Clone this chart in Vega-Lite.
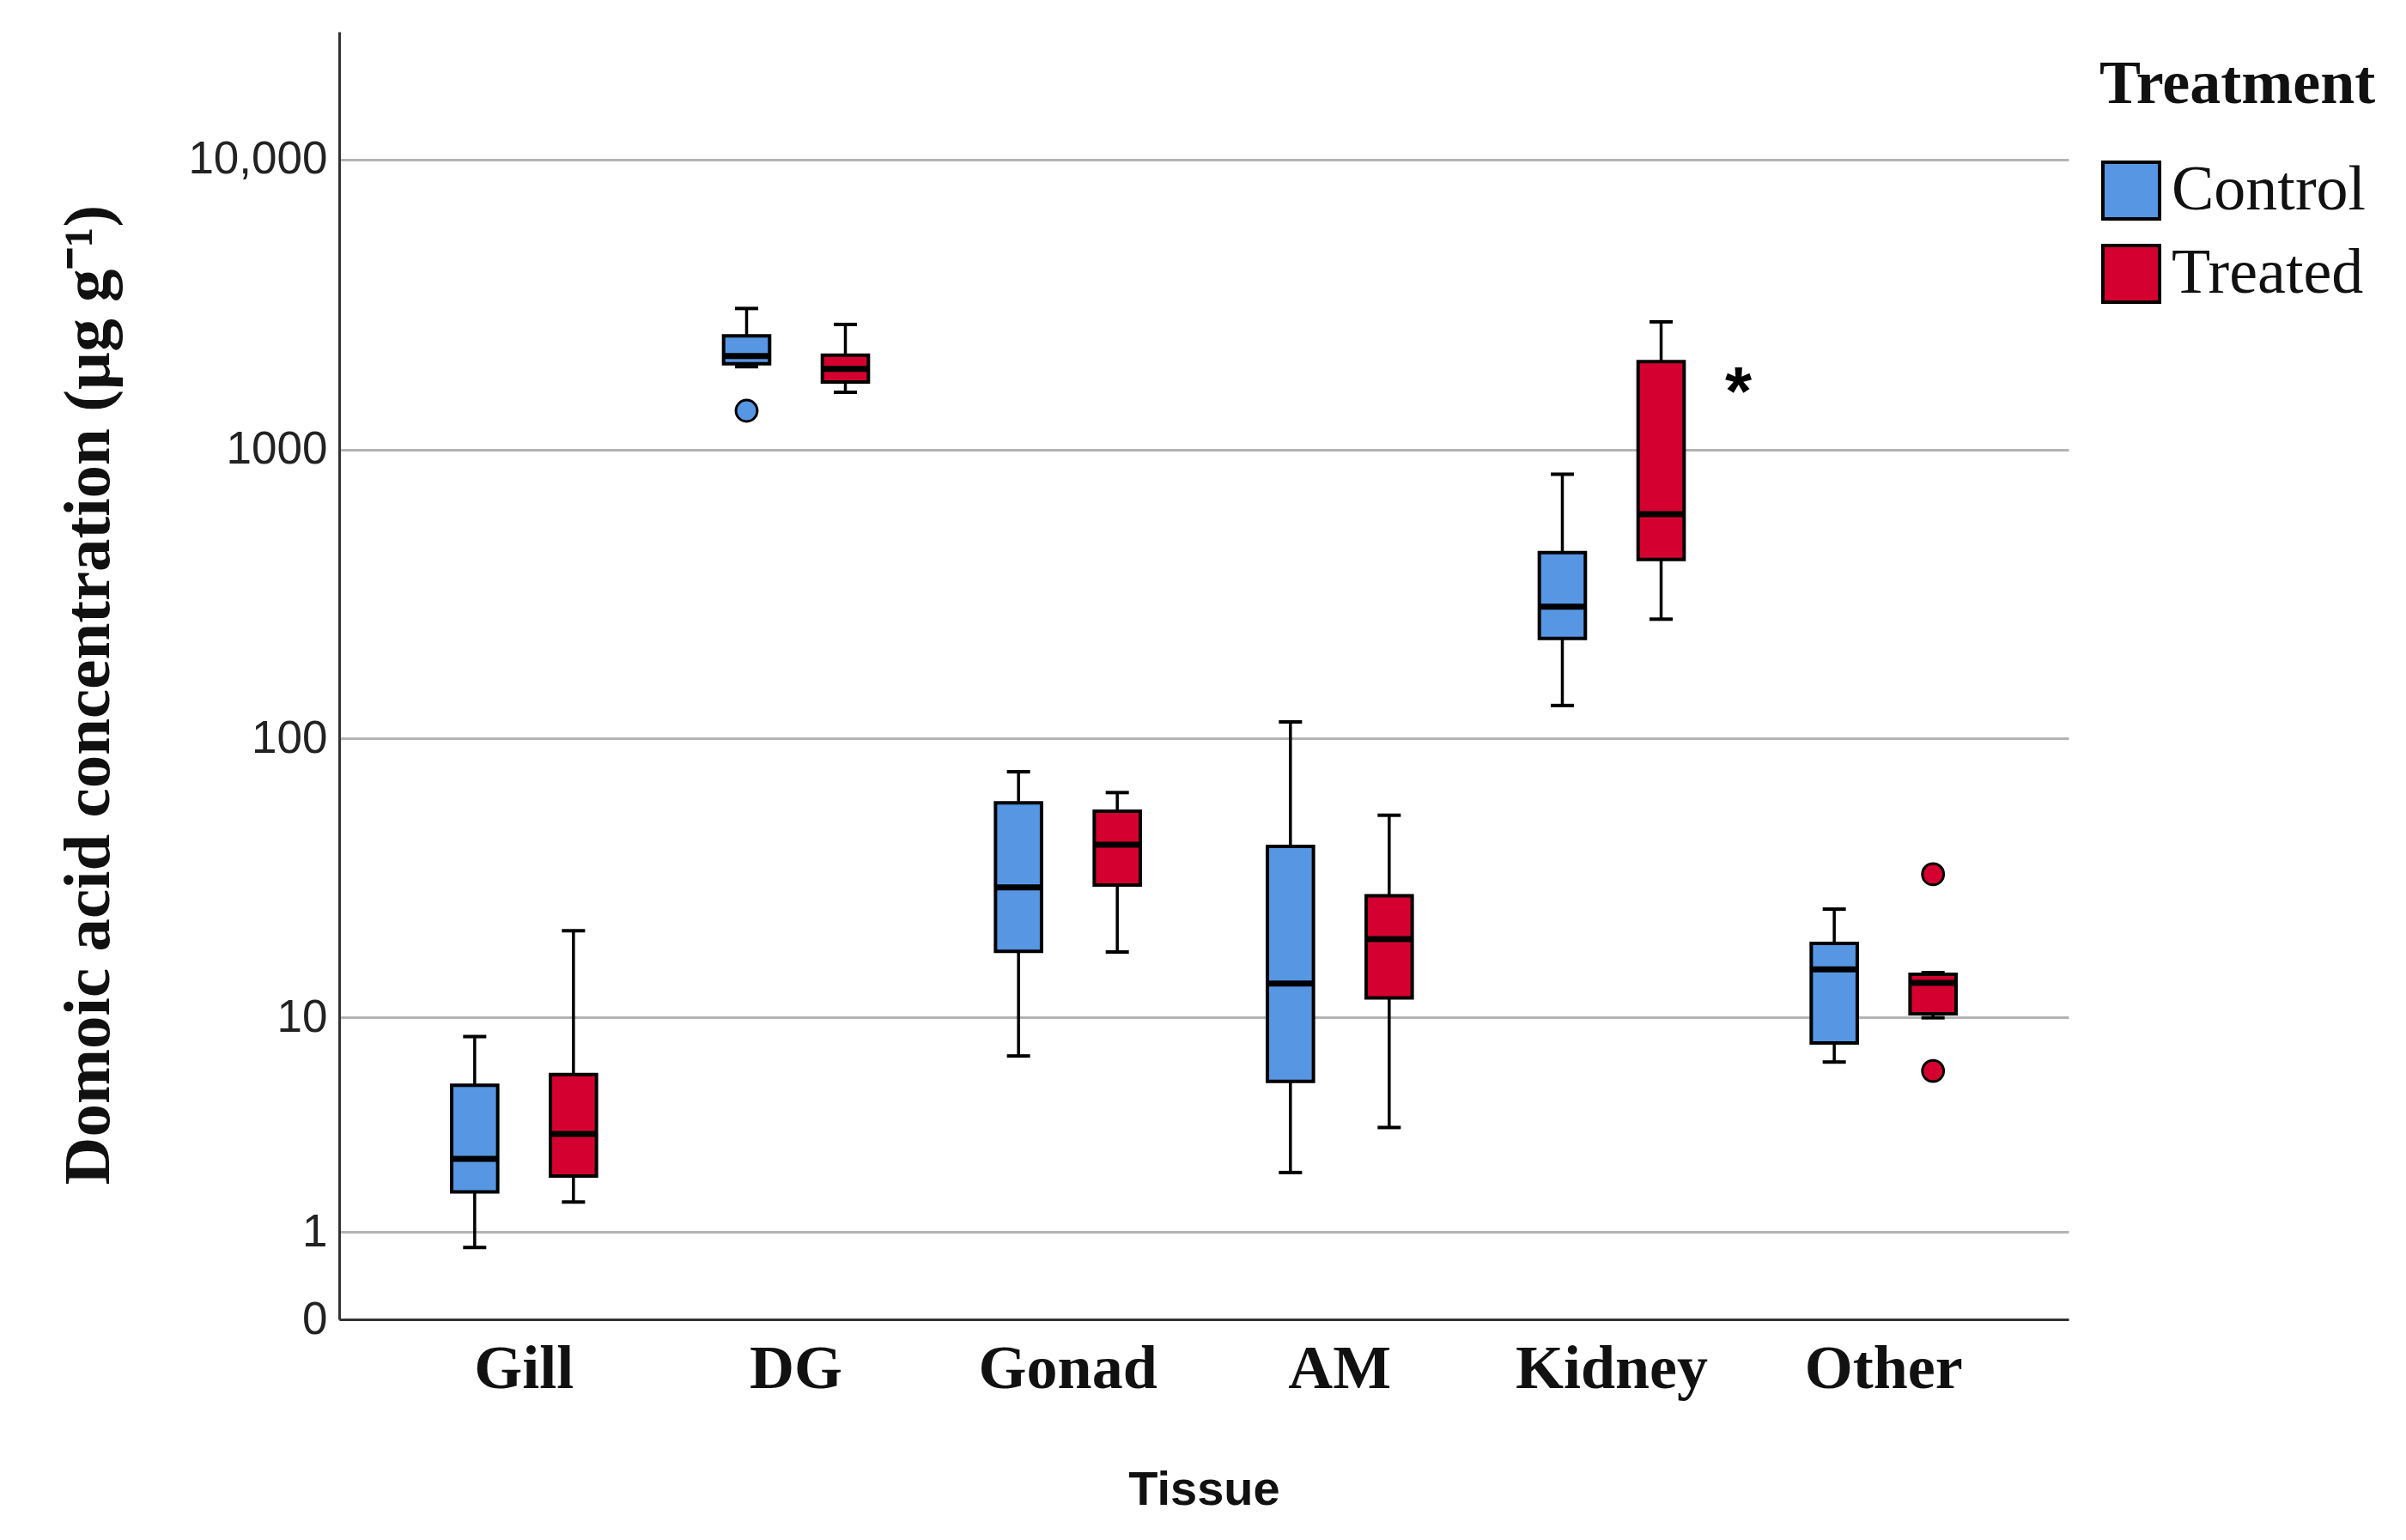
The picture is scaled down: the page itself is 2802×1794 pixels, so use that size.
{
  "$schema": "https://vega.github.io/schema/vega-lite/v6.json",
  "width": 2014,
  "height": 1500,
  "autosize": {"type": "none"},
  "padding": {"left": 395, "top": 37, "right": 393, "bottom": 257},
  "background": "white",
  "config": {
    "view": {"stroke": null},
    "axis": {"domainColor": "#333333", "domainWidth": 3, "ticks": false}
  },
  "datasets": {
    "boxes": [
      {"tissue": "Gill", "treatment": "Control", "min": 0.77, "q1": 1.75, "median": 2.58, "q3": 5.42, "max": 8.45},
      {"tissue": "Gill", "treatment": "Treated", "min": 1.54, "q1": 2.12, "median": 3.36, "q3": 5.99, "max": 20.9},
      {"tissue": "DG", "treatment": "Control", "min": 1930, "q1": 1975, "median": 2100, "q3": 2465, "max": 3065},
      {"tissue": "DG", "treatment": "Treated", "min": 1575, "q1": 1710, "median": 1895, "q3": 2115, "max": 2700},
      {"tissue": "Gonad", "treatment": "Control", "min": 7.1, "q1": 17.6, "median": 29.9, "q3": 59.5, "max": 76.4},
      {"tissue": "Gonad", "treatment": "Treated", "min": 17.5, "q1": 30.5, "median": 42.4, "q3": 55.6, "max": 64.6},
      {"tissue": "AM", "treatment": "Control", "min": 2.21, "q1": 5.62, "median": 13.4, "q3": 41.8, "max": 114},
      {"tissue": "AM", "treatment": "Treated", "min": 3.59, "q1": 11.85, "median": 19.5, "q3": 27.9, "max": 53.8},
      {"tissue": "Kidney", "treatment": "Control", "min": 130, "q1": 222, "median": 286, "q3": 440, "max": 821},
      {"tissue": "Kidney", "treatment": "Treated", "min": 259, "q1": 417, "median": 598, "q3": 2010, "max": 2756},
      {"tissue": "Other", "treatment": "Control", "min": 6.72, "q1": 7.98, "median": 15.1, "q3": 18.8, "max": 25.0},
      {"tissue": "Other", "treatment": "Treated", "min": 9.97, "q1": 10.32, "median": 13.47, "q3": 14.5, "max": 14.7}
    ],
    "outliers": [
      {"tissue": "DG", "treatment": "Control", "value": 1360},
      {"tissue": "Other", "treatment": "Treated", "value": 33.3},
      {"tissue": "Other", "treatment": "Treated", "value": 6.19}
    ],
    "notes": [
      {"tissue": "Kidney", "treatment": "Treated", "value": 1650, "label": "*"}
    ]
  },
  "encoding": {
    "x": {
      "field": "tissue",
      "type": "nominal",
      "sort": ["Gill", "DG", "Gonad", "AM", "Kidney", "Other"],
      "scale": {"paddingInner": 0, "paddingOuter": 0.18},
      "axis": {
        "labelFont": "Liberation Serif",
        "labelFontWeight": "bold",
        "labelFontSize": 72,
        "labelColor": "#111111",
        "labelPadding": 22,
        "labelAngle": 0,
        "labelLimit": 600,
        "title": "Tissue",
        "titleFont": "Liberation Sans",
        "titleFontWeight": "bold",
        "titleFontSize": 56,
        "titleColor": "#111111",
        "titlePadding": 78
      }
    },
    "xOffset": {
      "field": "treatment",
      "type": "nominal",
      "sort": ["Control", "Treated"],
      "scale": {"paddingInner": 0.534, "paddingOuter": 0.6435}
    }
  },
  "layer": [
    {
      "data": {"name": "boxes"},
      "mark": {"type": "rule", "color": "black", "strokeWidth": 3.5},
      "encoding": {
        "y": {
          "field": "min",
          "type": "quantitative",
          "scale": {"type": "symlog", "constant": 1, "domain": [0, 27600], "nice": false},
          "axis": {
            "values": [0, 1, 10, 100, 1000, 10000],
            "labelExpr": "datum.value >= 10000 ? format(datum.value, ',') : format(datum.value, 'd')",
            "grid": true,
            "gridColor": "#b4b4b4",
            "gridWidth": 3,
            "labelFont": "Liberation Sans",
            "labelFontSize": 53,
            "labelColor": "#222222",
            "labelPadding": 14,
            "labelLimit": 600,
            "title": "Domoic acid concentration (µg g⁻¹)",
            "titleFont": "Liberation Serif",
            "titleFontWeight": "bold",
            "titleFontSize": 77,
            "titleColor": "#111111",
            "titlePadding": 76,
            "titleY": 772,
            "titleLimit": 2000
          }
        },
        "y2": {"field": "max"}
      }
    },
    {
      "data": {"name": "boxes"},
      "mark": {"type": "bar", "stroke": "black", "strokeWidth": 4},
      "encoding": {
        "y": {"field": "q1", "type": "quantitative"},
        "y2": {"field": "q3"},
        "color": {
          "field": "treatment",
          "type": "nominal",
          "scale": {"domain": ["Control", "Treated"], "range": ["#5796e3", "#d4002f"]},
          "legend": {
            "title": "Treatment",
            "orient": "none",
            "legendX": 2050,
            "legendY": 26,
            "symbolType": "square",
            "symbolSize": 4356,
            "symbolStrokeColor": "black",
            "symbolStrokeWidth": 4,
            "symbolOpacity": 1,
            "labelFont": "Liberation Serif",
            "labelFontSize": 74,
            "labelColor": "#111111",
            "labelOffset": 10,
            "labelLimit": 600,
            "rowPadding": 15,
            "titleFont": "Liberation Serif",
            "titleFontWeight": "bold",
            "titleFontSize": 72,
            "titleColor": "#111111",
            "titlePadding": 50,
            "titleLimit": 600
          }
        }
      }
    },
    {
      "data": {"name": "boxes"},
      "mark": {"type": "tick", "color": "black", "size": 54, "thickness": 7, "opacity": 1},
      "encoding": {"y": {"field": "median", "type": "quantitative"}}
    },
    {
      "data": {"name": "boxes"},
      "mark": {"type": "tick", "color": "black", "size": 27, "thickness": 4, "opacity": 1},
      "encoding": {"y": {"field": "min", "type": "quantitative"}}
    },
    {
      "data": {"name": "boxes"},
      "mark": {"type": "tick", "color": "black", "size": 27, "thickness": 4, "opacity": 1},
      "encoding": {"y": {"field": "max", "type": "quantitative"}}
    },
    {
      "data": {"name": "outliers"},
      "mark": {"type": "point", "shape": "circle", "filled": true, "size": 616, "stroke": "black", "strokeWidth": 3, "opacity": 1},
      "encoding": {
        "y": {"field": "value", "type": "quantitative"},
        "color": {"field": "treatment", "type": "nominal", "legend": null}
      }
    },
    {
      "data": {"name": "notes"},
      "mark": {"type": "text", "dx": 90, "dy": 9, "font": "Liberation Sans", "fontWeight": "bold", "fontSize": 80, "baseline": "middle", "align": "center", "color": "black"},
      "encoding": {
        "y": {"field": "value", "type": "quantitative"},
        "text": {"field": "label"}
      }
    }
  ]
}
